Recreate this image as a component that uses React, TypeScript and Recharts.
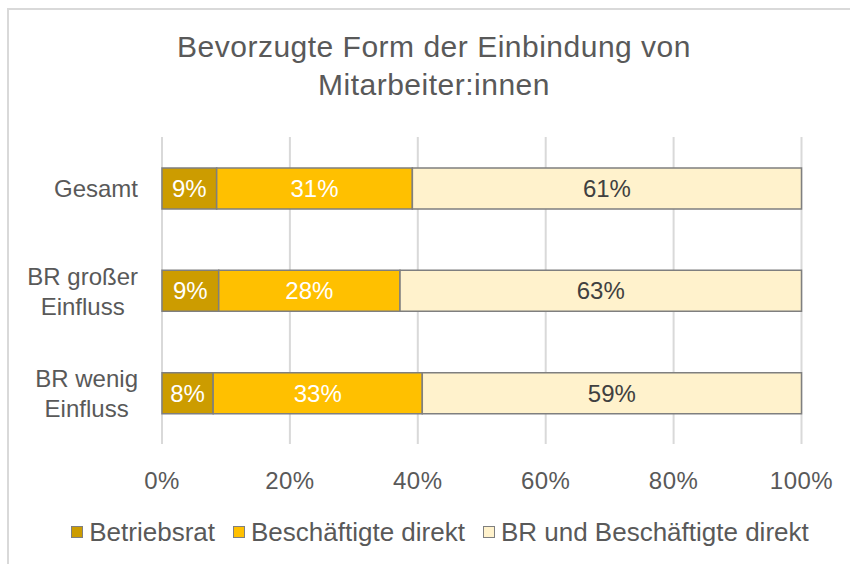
import { BarChart, Bar, XAxis, YAxis, CartesianGrid, LabelList } from 'recharts';

const FONT = '"Liberation Sans", Arial, sans-serif';
const TEXT = '#595959';

const categories = ['Gesamt', 'BR großer\nEinfluss', 'BR wenig\nEinfluss'];
const betriebsrat = [8.55, 8.87, 8.0];
const beschaeftigte = [30.6, 28.35, 32.7];
const beide = [60.85, 62.78, 59.3];
const xTicks = [0, 20, 40, 60, 80, 100];

const series = [
  { key: 'betriebsrat', name: 'Betriebsrat', color: '#CC9C00', label: '#ffffff' },
  { key: 'beschaeftigte', name: 'Beschäftigte direkt', color: '#FFC000', label: '#ffffff' },
  { key: 'beide', name: 'BR und Beschäftigte direkt', color: '#FFF2CC', label: '#404040' },
];

const data = categories.map((name, i) => ({
  name,
  betriebsrat: betriebsrat[i],
  beschaeftigte: beschaeftigte[i],
  beide: beide[i],
}));

let ctx: CanvasRenderingContext2D | null = null;
const measure = (s: string, font: string) => {
  if (!ctx) ctx = document.createElement('canvas').getContext('2d');
  if (!ctx) return s.length * 12;
  ctx.font = font;
  return ctx.measureText(s).width;
};

const CategoryTick = ({ x, y, payload }: any) => {
  const lines = String(payload.value).split('\n');
  const w = Math.max(...lines.map(l => measure(l, `24px ${FONT}`)));
  const cx = x - 24 - w / 2;
  return (
    <text fill={TEXT} fontSize={24} fontFamily={FONT} textAnchor="middle" dominantBaseline="central">
      {lines.map((l, i) => (
        <tspan key={i} x={cx} y={y + (i - (lines.length - 1) / 2) * 30}>{l}</tspan>
      ))}
    </text>
  );
};

const PercentTick = ({ x, y, payload }: any) => (
  <text x={x} y={y + 36} fill={TEXT} fontSize={24} fontFamily={FONT} textAnchor="middle"
    dominantBaseline="central" letterSpacing={0.5}>
    {`${payload.value}%`}
  </text>
);

export default function App() {
  return (
    <div style={{ position: 'absolute', left: 0, top: 0, width: 850, height: 564, overflow: 'hidden', background: '#fff' }}>
      <div style={{ position: 'absolute', left: 7, top: 8, width: 900, height: 600, border: '2px solid #d9d9d9', boxSizing: 'border-box' }} />
      <div style={{ position: 'absolute', left: 0, top: 28, width: 868, textAlign: 'center', fontFamily: FONT, fontSize: 30, lineHeight: '38px', color: TEXT, letterSpacing: 0.5 }}>
        Bevorzugte Form der Einbindung von<br />Mitarbeiter:innen
      </div>
      <div style={{ position: 'absolute', left: 9, top: 10 }}>
        <BarChart width={842} height={554} data={data} layout="vertical" barSize={41}
          margin={{ top: 127, right: 49.5, bottom: 80, left: 0 }}>
          <CartesianGrid horizontal={false} stroke="#d9d9d9" strokeWidth={2} />
          <XAxis type="number" domain={[0, 100]} ticks={xTicks} axisLine={false} tickLine={false}
            tickSize={0} tickMargin={0} tick={<PercentTick />} height={40} interval={0} />
          <YAxis type="category" dataKey="name" width={153} axisLine={false} tickLine={false}
            tickSize={0} tickMargin={0} tick={<CategoryTick />} interval={0} />
          {series.map(s => (
            <Bar key={s.key} dataKey={s.key} name={s.name} stackId="a" fill={s.color}
              stroke="#7f7f7f" strokeWidth={1.5} isAnimationActive={false}>
              <LabelList dataKey={s.key} position="center" fill={s.label} fontSize={24} fontFamily={FONT}
                formatter={(v: any) => `${Math.round(Number(v))}%`} />
            </Bar>
          ))}
        </BarChart>
      </div>
      <div style={{ position: 'absolute', left: 9, top: 517, width: 862, display: 'flex', justifyContent: 'center',
        fontFamily: FONT, fontSize: 26, lineHeight: '30px', color: TEXT }}>
        {series.map(s => (
          <div key={s.key} style={{ display: 'flex', alignItems: 'center', margin: '0 9px' }}>
            <span style={{ width: 12, height: 12, background: s.color, border: '1.5px solid #7f7f7f', marginRight: 6, boxSizing: 'border-box' }} />
            <span>{s.name}</span>
          </div>
        ))}
      </div>
    </div>
  );
}
